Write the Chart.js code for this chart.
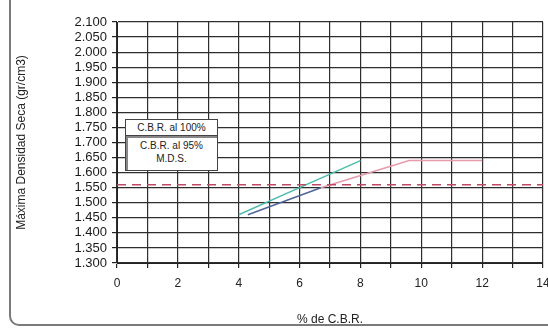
<!DOCTYPE html>
<html>
<head>
<meta charset="utf-8">
<script src="https://cdn.jsdelivr.net/npm/chart.js@4/dist/chart.umd.min.js"></script>
<style>
  html, body { margin: 0; padding: 0; background: #ffffff; overflow: hidden; width: 548px; height: 332px; }
  #wrap { position: relative; width: 548px; height: 332px; overflow: hidden; }
  #c { position: absolute; left: 0; top: 0; }
  #frame { position: absolute; left: 9px; top: -20px; width: 600px; height: 346px; border: 2px solid #7a7a7a; border-radius: 10px; box-sizing: border-box; pointer-events: none; }
  .lbl { position: absolute; background: #fff; border: 1px solid #444; box-sizing: border-box; font-family: "Liberation Sans", Arial, sans-serif; font-size: 10px; color: #222; text-align: center; line-height: 13px; }
  #b1 { left: 125px; top: 119px; width: 93px; height: 17px; padding-top: 1px; }
  #b2 { left: 125px; top: 135px; width: 93px; height: 36px; padding-top: 3px; box-shadow: inset 2px 2px 0 #888; }
</style>
</head>
<body>
<div id="wrap">
  <canvas id="c" width="560" height="332" style="width:560px;height:332px"></canvas>
  <div class="lbl" id="b1">C.B.R. al 100%</div>
  <div class="lbl" id="b2">C.B.R. al 95%<br>M.D.S.</div>
  <div id="frame"></div>
</div>
<script>
// ---- data ----
const xTickLabels = ['0', '2', '4', '6', '8', '10', '12', '14'];
const yTickLabels = ['1.300', '1.350', '1.400', '1.450', '1.500', '1.550', '1.600', '1.650', '1.700',
                     '1.750', '1.800', '1.850', '1.900', '1.950', '2.000', '2.050', '2.100'];

const tealX = [4.0, 6.0, 8.0];
const tealY = [1.46, 1.55, 1.64];

const blueX = [4.3, 6.7];
const blueY = [1.46, 1.55];

const pinkX = [6.7, 9.6, 12.0];
const pinkY = [1.55, 1.64, 1.64];

const mds95X = [0, 14];
const mds95Y = [1.56, 1.56];

function pts(xs, ys) { return xs.map((x, i) => ({ x: x, y: ys[i] })); }

const font = "'Liberation Sans', Arial, sans-serif";

new Chart(document.getElementById('c'), {
  type: 'scatter',
  data: {
    datasets: [
      { label: 'M.D.S. 95%', data: pts(mds95X, mds95Y), showLine: true, borderColor: '#c04a66', borderWidth: 1.5, borderDash: [9, 6], pointRadius: 0 },
      { label: 'pink', data: pts(pinkX, pinkY), showLine: true, borderColor: '#e79aac', borderWidth: 1.5, pointRadius: 0 },
      { label: 'blue', data: pts(blueX, blueY), showLine: true, borderColor: '#4f6598', borderWidth: 1.5, pointRadius: 0 },
      { label: 'teal', data: pts(tealX, tealY), showLine: true, borderColor: '#4fbcae', borderWidth: 1.5, pointRadius: 0 }
    ]
  },
  options: {
    responsive: false,
    animation: false,
    devicePixelRatio: 1,
    layout: { padding: { left: 12, top: 22, right: 17, bottom: 0 } },
    plugins: { legend: { display: false }, tooltip: { enabled: false } },
    scales: {
      x: {
        type: 'linear', min: 0, max: 14,
        afterFit: s => { s.height = 69; },
        border: { color: '#222', width: 1 },
        grid: { color: '#2e2e2e', lineWidth: 1.2, tickLength: 5, drawTicks: true, tickColor: '#222' },
        ticks: { stepSize: 1, autoSkip: false, maxRotation: 0, padding: 8, color: '#222', font: { family: font, size: 12 },
                 callback: v => xTickLabels.includes(String(v)) ? String(v) : '' },
        title: { display: true, text: '% de C.B.R.', color: '#222', font: { family: font, size: 12 }, padding: { top: 0, bottom: 5 } }
      },
      y: {
        type: 'linear', min: 1.3, max: 2.1,
        afterFit: s => { s.width = 105; },
        afterBuildTicks: s => { s.ticks = yTickLabels.map(t => ({ value: parseFloat(t) })); },
        border: { color: '#222', width: 1 },
        grid: { color: '#2e2e2e', lineWidth: 1.2, tickLength: 5, tickColor: '#222' },
        ticks: { autoSkip: false, padding: 5, color: '#1a1a1a', font: { family: font, size: 13 },
                 callback: (v, i) => yTickLabels[i] },
        title: { display: true, text: 'Máxima Densidad Seca (gr/cm3)', color: '#222', font: { family: font, size: 12 }, padding: { top: 2, bottom: 0 } }
      }
    }
  }
});
</script>
</body>
</html>
